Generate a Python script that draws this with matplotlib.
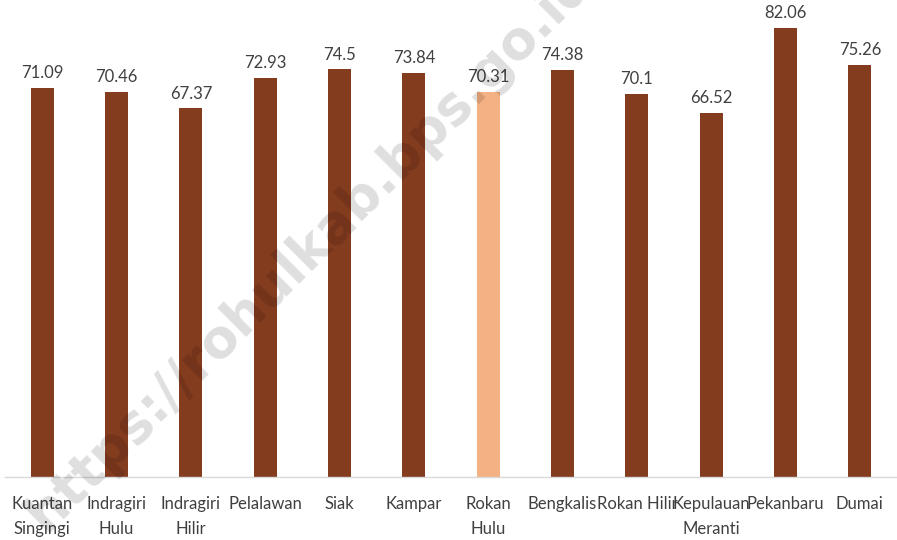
import matplotlib
matplotlib.use("Agg")
import matplotlib.pyplot as plt
import numpy as np

# data
regions = ["Kuantan\nSingingi", "Indragiri\nHulu", "Indragiri\nHilir", "Pelalawan",
           "Siak", "Kampar", "Rokan\nHulu", "Bengkalis", "Rokan Hilir",
           "Kepulauan\nMeranti", "Pekanbaru", "Dumai"]
values = [71.09, 70.46, 67.37, 72.93, 74.5, 73.84, 70.31, 74.38, 70.1, 66.52, 82.06, 75.26]
value_labels = ["71.09", "70.46", "67.37", "72.93", "74.5", "73.84", "70.31", "74.38",
                "70.1", "66.52", "82.06", "75.26"]
highlight = "Rokan\nHulu"

plt.rcParams['font.family'] = ['Lato', 'DejaVu Sans']

dark = "#843C1F"
light = "#F4B183"
txt = "#404040"

fig = plt.figure(figsize=(8.97, 5.40), dpi=100)
ax = fig.add_axes([5 / 897, 1 - 477 / 540, 892 / 897, 477 / 540])

x = np.arange(len(regions))
colors = [light if r == highlight else dark for r in regions]
ax.bar(x, values, width=0.31, color=colors, zorder=2)

for xi, v, lab in zip(x, values, value_labels):
    ax.annotate(lab, (xi, v), xytext=(0, 5), textcoords="offset points",
                ha="center", va="bottom", fontsize=12, color=txt)

ax.set_xlim(-0.5, len(regions) - 0.5)
ax.set_ylim(0, 87.2)
ax.set_xticks(x)
ax.set_xticklabels(regions, fontsize=12, color=txt, linespacing=1.65)
ax.tick_params(axis="x", length=0, pad=14)
ax.set_yticks([])
for s in ["top", "left", "right"]:
    ax.spines[s].set_visible(False)
ax.spines["bottom"].set_color("#D9D9D9")
ax.spines["bottom"].set_linewidth(1)

# watermark
fig.text(0.345, 0.54, "https://rohulkab.bps.go.id", rotation=45, ha="center", va="center",
         fontsize=38, fontweight="bold", color="#000000", alpha=0.13,
         family="DejaVu Sans", zorder=10)

fig.savefig("out.png", dpi=100)
